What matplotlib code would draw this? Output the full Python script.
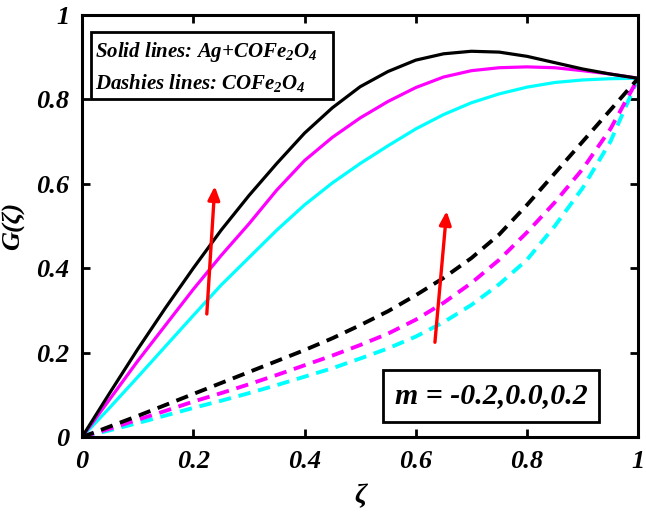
import numpy as np
import matplotlib
matplotlib.use('Agg')
import matplotlib.pyplot as plt
from matplotlib.patches import Rectangle

plt.rcParams['font.family'] = ['Liberation Serif', 'DejaVu Serif']
plt.rcParams['font.weight'] = 'bold'
plt.rcParams['font.style'] = 'italic'
plt.rcParams['axes.labelweight'] = 'bold'
plt.rcParams['mathtext.fontset'] = 'custom'
plt.rcParams['mathtext.rm'] = 'Liberation Serif:bold:italic'
plt.rcParams['mathtext.it'] = 'Liberation Serif:bold:italic'
plt.rcParams['mathtext.bf'] = 'Liberation Serif:bold:italic'

# zeta grid and curves (m = -0.2, 0.0, 0.2)
zeta = [0.0, 0.05, 0.1, 0.15, 0.2, 0.25, 0.3, 0.35, 0.4, 0.45, 0.5,
        0.55, 0.6, 0.65, 0.7, 0.75, 0.8, 0.85, 0.9, 0.95, 1.0]

# solid lines: Ag+COFe2O4
hyb_cyan = [0.0, 0.07, 0.142, 0.215, 0.288, 0.36, 0.425, 0.49, 0.55, 0.602, 0.648,
            0.69, 0.73, 0.764, 0.792, 0.813, 0.829, 0.84, 0.846, 0.849, 0.85]
hyb_magenta = [0.0, 0.09, 0.18, 0.265, 0.35, 0.43, 0.505, 0.585, 0.655, 0.71, 0.756,
               0.795, 0.828, 0.853, 0.868, 0.875, 0.877, 0.875, 0.868, 0.86, 0.85]
hyb_black = [0.0, 0.105, 0.208, 0.306, 0.40, 0.49, 0.572, 0.648, 0.72, 0.78, 0.83,
             0.866, 0.893, 0.908, 0.914, 0.912, 0.902, 0.887, 0.872, 0.86, 0.85]

# dashed lines: COFe2O4
mono_cyan = [0.0, 0.016, 0.033, 0.051, 0.069, 0.086, 0.104, 0.123, 0.143, 0.163, 0.186,
             0.21, 0.238, 0.272, 0.313, 0.362, 0.42, 0.5, 0.59, 0.7, 0.85]
mono_magenta = [0.0, 0.02, 0.041, 0.062, 0.084, 0.104, 0.125, 0.147, 0.17, 0.193, 0.218,
                0.245, 0.278, 0.318, 0.365, 0.42, 0.485, 0.556, 0.635, 0.73, 0.85]
mono_black = [0.0, 0.025, 0.05, 0.076, 0.102, 0.128, 0.154, 0.18, 0.206, 0.234, 0.265,
              0.298, 0.336, 0.377, 0.424, 0.48, 0.55, 0.625, 0.7, 0.775, 0.85]

ticks = [0, 0.2, 0.4, 0.6, 0.8, 1]
tick_labels = ['0', '0.2', '0.4', '0.6', '0.8', '1']

fig = plt.figure(figsize=(6.46, 5.16), dpi=100)
ax = fig.add_axes([0.127, 0.153, 0.861, 0.818])

colors = ['cyan', 'magenta', 'black']
for c, ys in zip(colors, [hyb_cyan, hyb_magenta, hyb_black]):
    ax.plot(zeta, ys, color=c, lw=2.3, solid_capstyle='butt')
for c, ys in zip(colors, [mono_cyan, mono_magenta, mono_black]):
    ax.plot(zeta, ys, color=c, lw=2.8, ls=(0, (3.2, 2.0)))

# red arrows showing increasing m
arrow = dict(arrowstyle='-|>,head_length=0.8,head_width=0.35', color='red', lw=2.4)
ax.annotate('', xy=(0.239, 0.601), xytext=(0.224, 0.285), arrowprops=arrow)
ax.annotate('', xy=(0.656, 0.542), xytext=(0.634, 0.218), arrowprops=arrow)

# boxes with descriptions
ax.add_patch(Rectangle((0.016, 0.801), 0.435, 0.159, transform=ax.transAxes,
                       fill=False, lw=2, ec='black', zorder=5))
ax.text(0.024, 0.912, 'Solid lines: Ag+COFe$_{2}$O$_{4}$', transform=ax.transAxes,
        fontsize=15, va='center', ha='left')
ax.text(0.024, 0.838, 'Dashies lines: COFe$_{2}$O$_{4}$', transform=ax.transAxes,
        fontsize=15, va='center', ha='left')

ax.add_patch(Rectangle((0.541, 0.036), 0.389, 0.123, transform=ax.transAxes,
                       fill=False, lw=2, ec='black', zorder=5))
ax.text(0.7355, 0.098, 'm = -0.2,0.0,0.2', transform=ax.transAxes,
        fontsize=21.5, va='center', ha='center')

ax.set_xlim(0, 1)
ax.set_ylim(0, 1)
ax.set_xticks(ticks)
ax.set_xticklabels(tick_labels)
ax.set_yticks(ticks)
ax.set_yticklabels(tick_labels)
ax.tick_params(direction='in', top=True, right=True, length=6, width=2,
               labelsize=19, pad=9)
for s in ax.spines.values():
    s.set_linewidth(2.2)

ax.set_xlabel('ζ', fontsize=20, labelpad=8)
ax.set_ylabel('G(ζ)', fontsize=19, labelpad=8)

fig.savefig('out.png', dpi=100)
